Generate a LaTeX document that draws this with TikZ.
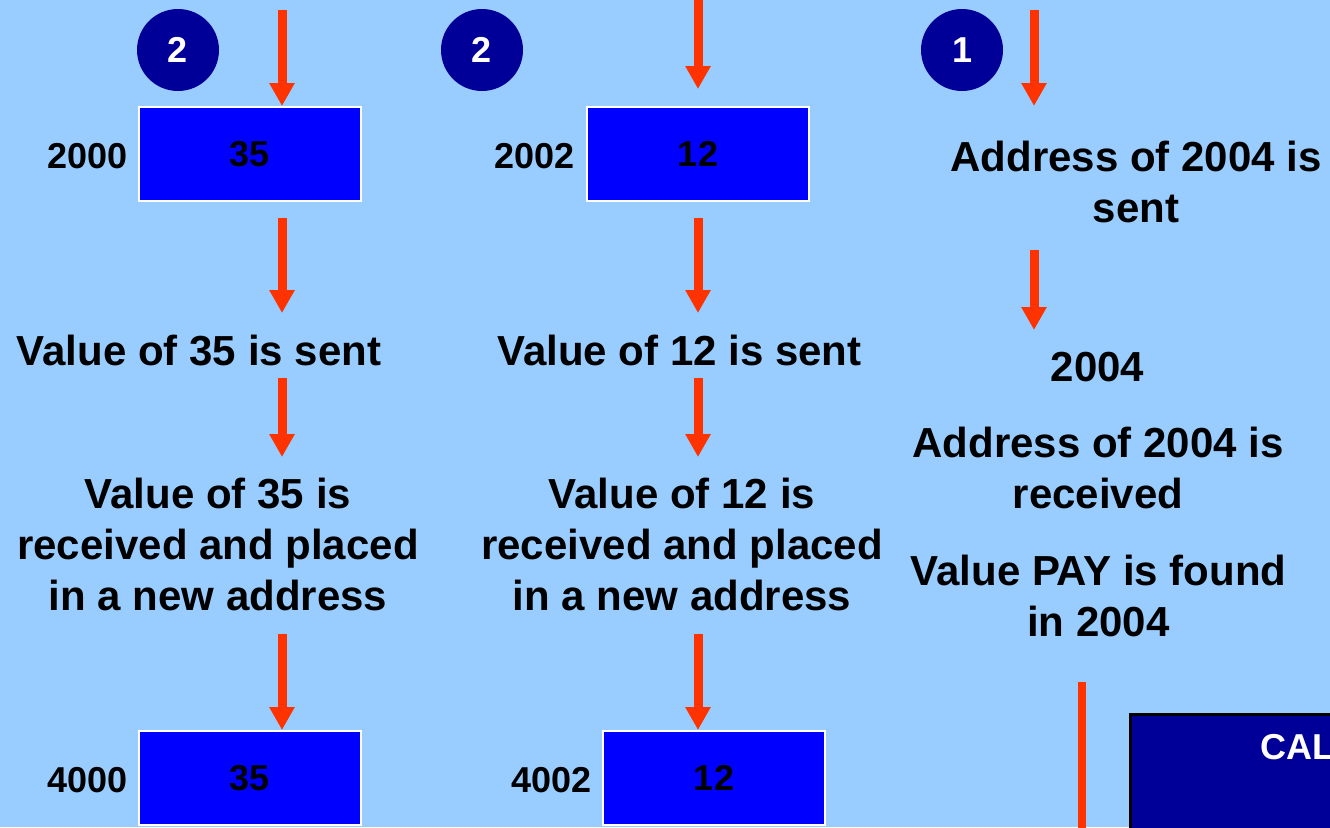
\documentclass[tikz,border=0pt]{standalone}
\usepackage{fontspec}
\setmainfont{Liberation Sans}
\usetikzlibrary{arrows.meta}
\definecolor{bgblue}{HTML}{99CCFF}
\definecolor{boxblue}{HTML}{0000FF}
\definecolor{navy}{HTML}{000099}
\definecolor{arrowred}{HTML}{FF3300}
\tikzset{
  bigtxt/.style={font=\fontsize{42}{51}\selectfont\bfseries, inner sep=0pt, align=center, anchor=base},
  smalltxt/.style={font=\fontsize{36}{43}\selectfont\bfseries, inner sep=0pt},
  membox/.style={draw=white, line width=2pt, fill=boxblue, minimum width=222pt, minimum height=94pt, inner sep=0pt, font=\fontsize{36}{43}\selectfont\bfseries},
  numcirc/.style={circle, fill=navy, minimum size=82pt, inner sep=0pt, text=white, font=\fontsize{36}{43}\selectfont\bfseries},
  flow/.style={draw=arrowred, line width=9pt, -{Triangle[width=24pt,length=23pt]}},
  plainflow/.style={draw=arrowred, line width=8pt}
}
\begin{document}
\begin{tikzpicture}[x=1pt,y=-1pt]
\useasboundingbox (0,0) rectangle (1330,827);
\clip (0,0) rectangle (1330,827);
\fill[bgblue] (0,0) rectangle (1330,827);

% circles
\node[numcirc] (c1) at (178,50) {2};
\node[numcirc] (c2) at (482,50) {2};
\node[numcirc] (c3) at (962,50) {1};

% column 1
\node[membox] (box1) at (250,154) {35};
\node[smalltxt, anchor=base east] (lab1) at (128,168) {2000};
\node[bigtxt] (sent1) at (199,365) {Value of 35 is sent};
\node[bigtxt] (recv1) at (218,610) {Value of 35 is\\received and placed\\in a new address};
\node[membox] (box3) at (250,778) {35};
\node[smalltxt, anchor=base east] (lab3) at (128,792) {4000};

% column 2
\node[membox] (box2) at (698,154) {12};
\node[smalltxt, anchor=base east] (lab2) at (575,168) {2002};
\node[bigtxt] (sent2) at (679.5,365) {Value of 12 is sent};
\node[bigtxt] (recv2) at (682,610) {Value of 12 is\\received and placed\\in a new address};
\node[membox] (box4) at (714,778) {12};
\node[smalltxt, anchor=base east] (lab4) at (592,792) {4002};

% column 3
\node[bigtxt] (addr) at (1136,222) {Address of 2004 is\\sent};
\node[bigtxt] (n2004) at (1097.5,381) {2004};
\node[bigtxt] (addrrecv) at (1098,508) {Address of 2004 is\\received};
\node[bigtxt] (payfound) at (1098.5,636) {Value PAY is found\\in 2004};

% dark box at bottom right
\node[draw=black, line width=2.5pt, fill=navy, minimum width=400pt, minimum height=200pt, anchor=north west] (calbox) at (1129,713) {};
\node[smalltxt, text=white, anchor=base west] (caltxt) at (1260,759) {CAL};

% coordinates for arrows
\coordinate (a1s) at (282,10);
\coordinate (a2s) at (282,218);
\coordinate (a2e) at (282,313);
\coordinate (a3s) at (282,378);
\coordinate (a3e) at (282,457);
\coordinate (a4s) at (282,634);
\coordinate (b1s) at (698,0);
\coordinate (b1e) at (698,89);
\coordinate (b2s) at (698,218);
\coordinate (b2e) at (698,313);
\coordinate (b3s) at (698,378);
\coordinate (b3e) at (698,457);
\coordinate (b4s) at (698,634);
\coordinate (d1s) at (1034,10);
\coordinate (d1e) at (1034,106);
\coordinate (d2s) at (1034,250);
\coordinate (d2e) at (1034,330);
\coordinate (ls) at (1082,682);
\coordinate (le) at (1082,840);

% arrows
\draw[flow] (a1s) -- (a1s |- box1.north);
\draw[flow] (a2s) -- (a2e);
\draw[flow] (a3s) -- (a3e);
\draw[flow] (a4s) -- (a4s |- box3.north);
\draw[flow] (b1s) -- (b1e);
\draw[flow] (b2s) -- (b2e);
\draw[flow] (b3s) -- (b3e);
\draw[flow] (b4s) -- (b4s |- box4.north);
\draw[flow] (d1s) -- (d1e);
\draw[flow] (d2s) -- (d2e);
\draw[plainflow] (ls) -- (le);
\end{tikzpicture}
\end{document}
